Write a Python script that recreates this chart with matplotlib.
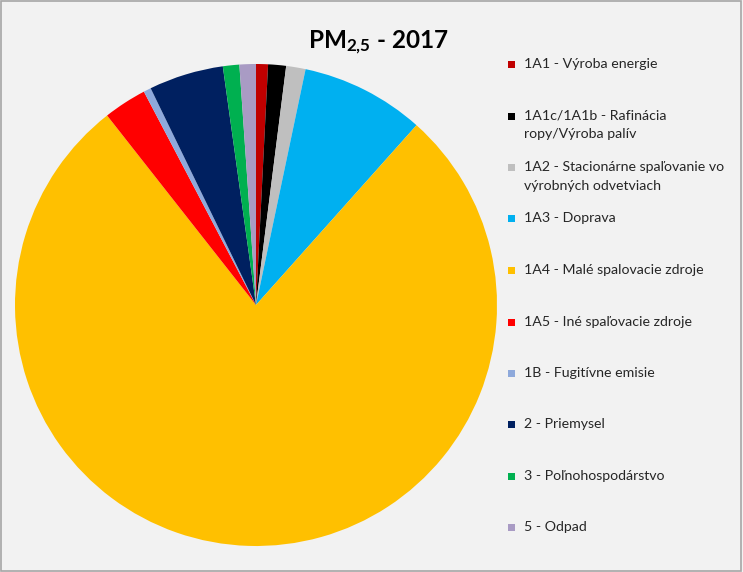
import matplotlib
matplotlib.use("Agg")
import matplotlib.pyplot as plt
from matplotlib.patches import Rectangle

plt.rcParams['font.family'] = ['Lato', 'DejaVu Sans']
plt.rcParams['mathtext.fontset'] = 'custom'
plt.rcParams['mathtext.bf'] = 'Lato:bold'
plt.rcParams['mathtext.rm'] = 'Lato'

# Podiel sektorov na emisiách PM2,5 (%)
sektory = [
    '1A1 - Výroba energie',
    '1A1c/1A1b - Rafinácia\nropy/Výroba palív',
    '1A2 - Stacionárne spaľovanie vo\nvýrobných odvetviach',
    '1A3 - Doprava',
    '1A4 - Malé spalovacie zdroje',
    '1A5 - Iné spaľovacie zdroje',
    '1B - Fugitívne emisie',
    '2 - Priemysel',
    '3 - Poľnohospodárstvo',
    '5 - Odpad',
]
podiel = [0.8, 1.2, 1.3, 8.3, 77.8, 2.9, 0.5, 5.0, 1.1, 1.1]
farby = ['#C00000', '#000000', '#BFBFBF', '#00B0F0', '#FFC000',
         '#FF0000', '#8EA9DB', '#002060', '#00B050', '#A99BC4']

W, H = 743, 572
fig = plt.figure(figsize=(W / 100, H / 100), dpi=100, facecolor='#F2F2F2')
fig.patches.append(Rectangle((0.001, 0.002), 0.996, 0.996, transform=fig.transFigure,
                             fill=False, edgecolor='#A6A6A6', linewidth=1.2))

# kruh: stred (256, 305), polomer 241 px
cx, cy, r = 256, 305, 241
ax = fig.add_axes([(cx - r) / W, (H - cy - r) / H, 2 * r / W, 2 * r / H])
ax.pie(podiel, colors=farby, startangle=90, counterclock=False, radius=1,
       wedgeprops=dict(linewidth=0))
ax.set_xlim(-1, 1)
ax.set_ylim(-1, 1)
ax.set_aspect('equal')
ax.axis('off')

fig.text(378 / W, 1 - 43 / H, r'$\mathbf{PM_{2{,}5}}$ - 2017', ha='center', va='center',
         fontsize=17.5, fontweight='bold', color='#000000')

# legenda
legenda_y = [64, 116, 167, 218, 270, 322, 373, 424, 476, 527]
riadok = 18.5
for text, farba, y in zip(sektory, farby, legenda_y):
    fig.patches.append(Rectangle((508 / W, 1 - (y + 3.5) / H), 7 / W, 7 / H,
                                 transform=fig.transFigure, facecolor=farba,
                                 edgecolor='none'))
    for i, line in enumerate(text.split('\n')):
        fig.text(524 / W, 1 - (y + i * riadok) / H, line, ha='left', va='center',
                 fontsize=10.2, color='#262626')

fig.savefig('out.png', dpi=100, facecolor=fig.get_facecolor())
